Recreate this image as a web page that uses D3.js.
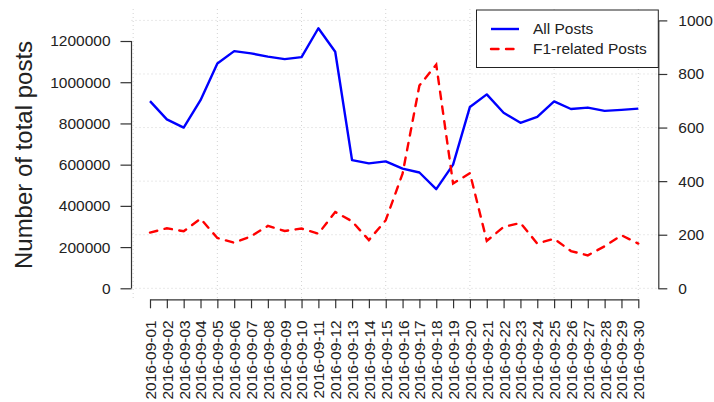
<!DOCTYPE html>
<html>
<head>
<meta charset="utf-8">
<script src="https://cdn.jsdelivr.net/npm/d3@7"></script>
<style>
  body { margin: 0; background: #fff; }
  svg text { font-family: "Liberation Sans", Arial, Helvetica, sans-serif; fill: #222; }
</style>
</head>
<body>
<div id="chart"></div>
<script>
var dates = ["2016-09-01","2016-09-02","2016-09-03","2016-09-04","2016-09-05","2016-09-06",
  "2016-09-07","2016-09-08","2016-09-09","2016-09-10","2016-09-11","2016-09-12","2016-09-13",
  "2016-09-14","2016-09-15","2016-09-16","2016-09-17","2016-09-18","2016-09-19","2016-09-20",
  "2016-09-21","2016-09-22","2016-09-23","2016-09-24","2016-09-25","2016-09-26","2016-09-27",
  "2016-09-28","2016-09-29","2016-09-30"];

// total posts (left axis)
var all_posts = [908000, 820000, 780000, 913000, 1091000, 1151000, 1140000, 1124000, 1112000, 1122000,
  1262000, 1148000, 622000, 606000, 616000, 581000, 562000, 481000, 600000, 880000,
  941000, 852000, 803000, 832000, 907000, 870000, 877000, 861000, 866000, 872000];

// F1-related posts (right axis)
var f1_posts = [208, 224, 213, 260, 188, 170, 194, 233, 214, 223,
  204, 285, 250, 180, 254, 428, 757, 835, 391, 430,
  177, 229, 244, 167, 185, 139, 123, 157, 198, 167];

var left_ticks = [0, 200000, 400000, 600000, 800000, 1000000, 1200000];
var right_ticks = [0, 200, 400, 600, 800, 1000];
var grid_x = [0, 5, 10, 15, 20, 25, 30];

var width = 714, height = 402;
var plot = {left: 131.5, right: 658.3, top: 9, bottom: 299.3};

var svg = d3.select("#chart").append("svg")
  .attr("width", width)
  .attr("height", height);

var x = d3.scaleLinear().domain([1, 30]).range([150, 638.3]);
var yLeft = d3.scaleLinear().domain([0, 1300000]).range([288.3, 20.4]);
var yRight = d3.scaleLinear().domain([0, 1000]).range([288.3, 20.4]);

//Dotted grid
svg.append("g").selectAll("line.h")
  .data(right_ticks)
  .enter().append("line")
  .attr("x1", plot.left).attr("x2", plot.right)
  .attr("y1", d => yRight(d)).attr("y2", d => yRight(d))
  .attr("stroke", "#d3d3d3").attr("stroke-width", 1).attr("stroke-dasharray", "1,3");

svg.append("g").selectAll("line.v")
  .data(grid_x)
  .enter().append("line")
  .attr("x1", d => x(d)).attr("x2", d => x(d))
  .attr("y1", plot.top).attr("y2", plot.bottom)
  .attr("stroke", "#d3d3d3").attr("stroke-width", 1).attr("stroke-dasharray", "1,3");

//Lines
var idx = d3.range(1, 31);
var lineAll = d3.line().x((d, i) => x(i + 1)).y(d => yLeft(d));
var lineF1 = d3.line().x((d, i) => x(i + 1)).y(d => yRight(d));

svg.append("path")
  .datum(all_posts)
  .attr("d", lineAll)
  .attr("fill", "none")
  .attr("stroke", "#0000ff")
  .attr("stroke-width", 2.4)
  .attr("stroke-linejoin", "round");

svg.append("path")
  .datum(f1_posts)
  .attr("d", lineF1)
  .attr("fill", "none")
  .attr("stroke", "#ff0000")
  .attr("stroke-width", 2.4)
  .attr("stroke-linecap", "round")
  .attr("stroke-dasharray", "7.5,7.5");

//Axes
var fs = "15.5px";

var leftAxis = svg.append("g")
  .attr("transform", "translate(" + plot.left + ",0)")
  .call(d3.axisLeft(yLeft).tickValues(left_ticks).tickSize(11).tickSizeOuter(0).tickPadding(10)
    .tickFormat(d3.format("d")));
leftAxis.select(".domain").attr("d", "M0," + yLeft(0) + "V" + yLeft(1200000));

var rightAxis = svg.append("g")
  .attr("transform", "translate(" + plot.right + ",0)")
  .call(d3.axisRight(yRight).tickValues(right_ticks).tickSize(9).tickSizeOuter(0).tickPadding(11)
    .tickFormat(d3.format("d")));

var bottomAxis = svg.append("g")
  .attr("transform", "translate(0," + plot.bottom + ")")
  .call(d3.axisBottom(x).tickValues(idx).tickSize(9).tickSizeOuter(0).tickFormat(""));

[leftAxis, rightAxis, bottomAxis].forEach(function(g) {
  g.selectAll("path, line").attr("stroke", "#333").attr("stroke-width", 1.2);
  g.selectAll("text").style("font-size", fs).attr("fill", "#222").attr("font-family", null);
});

bottomAxis.selectAll(".tick")
  .append("text")
  .attr("transform", "translate(0,21) rotate(-90)")
  .attr("text-anchor", "end")
  .attr("dy", "0.35em")
  .attr("fill", "#222")
  .style("font-size", fs)
  .text(d => dates[d - 1]);

//Y axis title
svg.append("text")
  .attr("transform", "translate(31.5,155) rotate(-90)")
  .attr("text-anchor", "middle")
  .style("font-size", "24px")
  .text("Number of total posts");

//Legend
var legend = svg.append("g");
legend.append("rect")
  .attr("x", 476.5).attr("y", 10)
  .attr("width", plot.right - 476.5).attr("height", 57.5)
  .attr("fill", "#fff").attr("stroke", "#222").attr("stroke-width", 1);

var legend_items = [
  {name: "All Posts", color: "#0000ff", dash: null, y: 29},
  {name: "F1-related Posts", color: "#ff0000", dash: "7.5,7.5", y: 49}
];

legend_items.forEach(function(it) {
  legend.append("line")
    .attr("x1", 491).attr("x2", 519)
    .attr("y1", it.y).attr("y2", it.y)
    .attr("stroke", it.color).attr("stroke-width", 2.4)
    .attr("stroke-linecap", it.dash ? "round" : "butt")
    .attr("stroke-dasharray", it.dash);
  legend.append("text")
    .attr("x", 533).attr("y", it.y)
    .attr("dy", "0.35em")
    .style("font-size", fs)
    .text(it.name);
});
</script>
</body>
</html>
